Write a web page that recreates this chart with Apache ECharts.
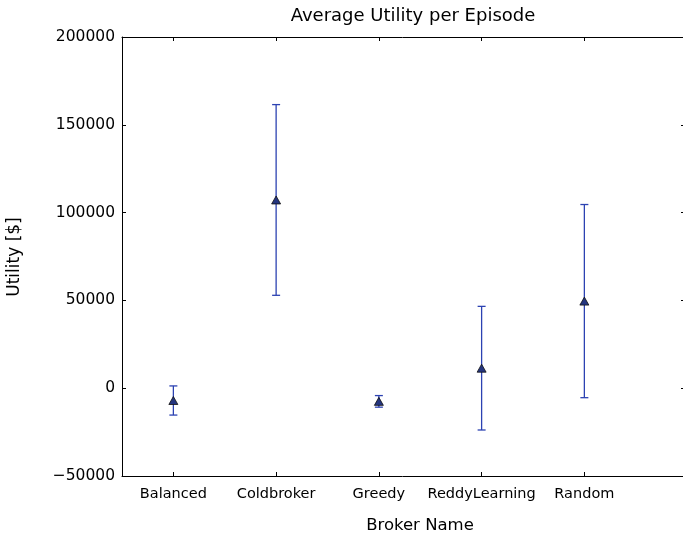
<!DOCTYPE html>
<html>
<head>
<meta charset="utf-8">
<title>Average Utility per Episode</title>
<script src="https://cdn.jsdelivr.net/npm/echarts@6/dist/echarts.min.js"></script>
<style>
  html, body { margin: 0; padding: 0; background: #fff; }
  #chart { width: 683px; height: 540px; }
</style>
</head>
<body>
<div id="chart"></div>
<script>
// broker names, mean utility and error (half-height of the bar)
const brokers = ['Balanced', 'Coldbroker', 'Greedy', 'ReddyLearning', 'Random']
const brokerPos = [1, 2, 3, 4, 5]
const meanUtility = [-7000, 107200, -7500, 11400, 49600]
const utilityErr = [8300, 54300, 3300, 35200, 55000]
const yTicks = [-50000, 0, 50000, 100000, 150000, 200000]

const FONT = 'DejaVu Sans'
const barColor = '#2c42b2'

const points = brokerPos.map((x, i) => [x, meanUtility[i]])
const bars = brokerPos.map((x, i) => [x, meanUtility[i] - utilityErr[i], meanUtility[i] + utilityErr[i]])

const renderErr = (params, api) => {
  const x = api.value(0)
  const lo = api.coord([x, api.value(1)])
  const hi = api.coord([x, api.value(2)])
  const cap = 4
  const style = { stroke: barColor, lineWidth: 1.3 }
  return {
    type: 'group',
    children: [
      { type: 'line', shape: { x1: lo[0], y1: lo[1], x2: hi[0], y2: hi[1] }, style },
      { type: 'line', shape: { x1: lo[0] - cap, y1: lo[1], x2: lo[0] + cap, y2: lo[1] }, style },
      { type: 'line', shape: { x1: hi[0] - cap, y1: hi[1], x2: hi[0] + cap, y2: hi[1] }, style }
    ]
  }
}

const lineStyle = { color: '#000', width: 1 }
const tick = { inside: true, length: 4, lineStyle: { color: '#000', width: 1 } }

const chart = echarts.init(document.getElementById('chart'))
chart.setOption({
  animation: false,
  textStyle: { fontFamily: FONT },
  grid: { left: 122, top: 37, right: 0, bottom: 64 },
  graphic: [
    {
      type: 'text',
      style: { text: 'Average Utility per Episode', font: `18px "${FONT}"`, fill: '#000', x: 413, y: 16, textAlign: 'center', textVerticalAlign: 'middle' }
    },
    {
      type: 'text',
      style: { text: 'Broker Name', font: `16.5px "${FONT}"`, fill: '#000', x: 420, y: 526, textAlign: 'center', textVerticalAlign: 'middle' }
    },
    {
      type: 'text', rotation: Math.PI / 2, x: 15, y: 257,
      style: { text: 'Utility [$]', font: `17px "${FONT}"`, fill: '#000', x: 0, y: 0, textAlign: 'center', textVerticalAlign: 'middle' }
    }
  ],
  xAxis: [
    {
      type: 'value', position: 'bottom', min: 0.5, max: 5.96,
      axisLine: { onZero: false, lineStyle },
      axisTick: { ...tick, customValues: brokerPos },
      axisLabel: {
        customValues: brokerPos, margin: 11, color: '#000', fontSize: 14.5, fontFamily: FONT,
        formatter: (v) => brokers[Math.round(v) - 1]
      },
      splitLine: { show: false }
    },
    {
      type: 'value', position: 'top', min: 0.5, max: 5.96,
      axisLine: { onZero: false, lineStyle },
      axisTick: { ...tick, customValues: brokerPos },
      axisLabel: { show: false },
      splitLine: { show: false }
    }
  ],
  yAxis: [
    {
      type: 'value', position: 'left', min: yTicks[0], max: yTicks[yTicks.length - 1], interval: 50000,
      axisLine: { show: true, onZero: false, lineStyle },
      axisTick: { show: true, ...tick },
      axisLabel: {
        margin: 7, color: '#000', fontSize: 15.5, fontFamily: FONT,
        formatter: (v) => (v < 0 ? '\u2212' + (-v) : String(v))
      },
      splitLine: { show: false }
    },
    {
      type: 'value', position: 'right', min: yTicks[0], max: yTicks[yTicks.length - 1], interval: 50000,
      axisLine: { show: false, onZero: false },
      axisTick: { show: true, ...tick, length: 2 },
      axisLabel: { show: false },
      splitLine: { show: false }
    }
  ],
  series: [
    {
      type: 'custom',
      renderItem: renderErr,
      encode: { x: 0, y: [1, 2] },
      data: bars,
      z: 2
    },
    {
      type: 'scatter',
      symbol: 'triangle',
      symbolSize: [9, 8],
      itemStyle: { color: '#24357f', borderColor: '#111', borderWidth: 0.8, opacity: 1 },
      data: points,
      z: 3
    }
  ]
})
</script>
</body>
</html>
